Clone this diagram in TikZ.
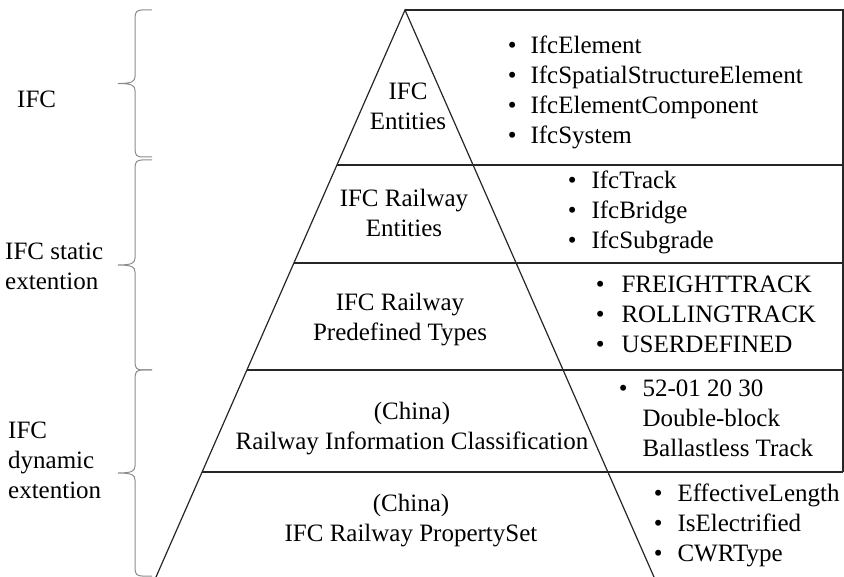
\documentclass[tikz,border=0pt]{standalone}
\usepackage{fontspec}
\setmainfont{Liberation Serif}
\usetikzlibrary{calc}
\begin{document}
\begin{tikzpicture}[x=1pt,y=-1pt,
  every node/.style={font=\fontsize{25}{30}\selectfont, inner sep=0pt},
  edge/.style={draw=black!85, line width=1.2pt},
  curly/.style={draw=black!45, line width=1pt},
  layer/.style={align=center},
  items/.style={anchor=west, align=left},
  side/.style={anchor=west, align=left}]
\useasboundingbox (0,0) rectangle (844,577);

% pyramid outline
\coordinate (apex) at (405,10);
\coordinate (bl) at (156,577);
\coordinate (br) at (654,577);
\coordinate (rt) at (843,10);
\coordinate (l1) at ($(apex)!0.2734!(bl)$);
\coordinate (l2) at ($(apex)!0.4462!(bl)$);
\coordinate (l3) at ($(apex)!0.6349!(bl)$);
\coordinate (l4) at ($(apex)!0.8148!(bl)$);

\draw[edge] (bl) -- (apex) -- (br);
\draw[edge] (apex) -- (rt) -- (rt |- l4);
\foreach \c in {l1,l2,l3,l4} \draw[edge] (\c) -- (\c -| rt);

% braces on the left: hooks at x=152, spine at x=135, tip at x=118
\foreach \ya/\yb in {10/157, 160/370, 370/576}{
  \pgfmathsetmacro{\ym}{(\ya+\yb)/2}
  \draw[curly] (152,\ya) -- (142,\ya)
    .. controls (137,\ya) and (135,\ya+2) .. (135,\ya+8)
    -- (135,\ym-7)
    .. controls (135,\ym-2) and (132,\ym) .. (118,\ym)
    .. controls (132,\ym) and (135,\ym+2) .. (135,\ym+7)
    -- (135,\yb-8)
    .. controls (135,\yb-2) and (137,\yb) .. (142,\yb) -- (152,\yb);
}

\node[side] (g1) at (17,99) {IFC};
\node[side] (g2) at (5,266) {IFC static\\extention};
\node[side] (g3) at (8,460) {IFC\\dynamic\\extention};

% layer titles
\node[layer] (t1) at (408,106) {IFC\\Entities};
\node[layer] (t2) at (404,213) {IFC Railway\\Entities};
\node[layer] (t3) at (400,320) {IFC Railway\\Predefined Types};
\node[layer] (t4) at (412,429) {(China)\\Railway Information Classification};
\node[layer] (t5) at (411,521) {(China)\\IFC Railway PropertySet};

% item lists
\node[items] (e1) at (507.6,93) {\begin{tabular}{@{}l@{\hspace{14pt}}l@{}}
  \textbullet & IfcElement\\
  \textbullet & IfcSpatialStructureElement\\
  \textbullet & IfcElementComponent\\
  \textbullet & IfcSystem\end{tabular}};
\node[items] (e2) at (567.6,213) {\begin{tabular}{@{}l@{\hspace{15pt}}l@{}}
  \textbullet & IfcTrack\\
  \textbullet & IfcBridge\\
  \textbullet & IfcSubgrade\end{tabular}};
\node[items] (e3) at (595.6,317) {\begin{tabular}{@{}l@{\hspace{17pt}}l@{}}
  \textbullet & FREIGHTTRACK\\
  \textbullet & ROLLINGTRACK\\
  \textbullet & USERDEFINED\end{tabular}};
\node[items] (e4) at (618.6,421) {\begin{tabular}{@{}l@{\hspace{15pt}}l@{}}
  \textbullet & 52-01 20 30\\
              & Double-block\\
              & Ballastless Track\end{tabular}};
\node[items] (e5) at (653.6,525) {\begin{tabular}{@{}l@{\hspace{15pt}}l@{}}
  \textbullet & EffectiveLength\\
  \textbullet & IsElectrified\\
  \textbullet & CWRType\end{tabular}};
\end{tikzpicture}
\end{document}
